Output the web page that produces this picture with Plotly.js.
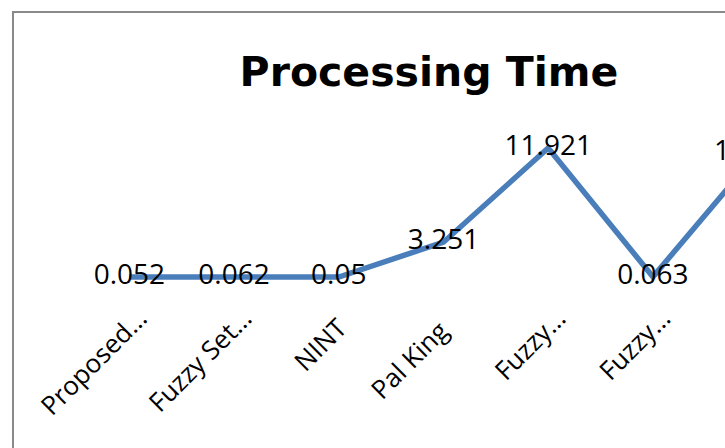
<!DOCTYPE html>
<html>
<head>
<meta charset="utf-8">
<script src="https://cdn.plot.ly/plotly-3.0.1.min.js"></script>
<style>
  html, body { margin: 0; padding: 0; width: 725px; height: 448px; overflow: hidden; background: #fff; }
  #chart { position: absolute; left: 0; top: 0; width: 860px; height: 448px; }
  #frame { position: absolute; left: 12px; top: 11px; width: 900px; height: 500px;
           border: 2px solid #8a8a8a; pointer-events: none; z-index: 10; }
</style>
</head>
<body>
<div id="chart"></div>
<div id="frame"></div>
<script>
// Data
const categories = ["Proposed\u2026", "Fuzzy Set\u2026", "NINT", "Pal King", "Fuzzy\u2026", "Fuzzy\u2026", "Fi\u2026"];
const processingTime = [0.052, 0.062, 0.05, 3.251, 11.921, 0.063, 11.452];

const xIdx = categories.map((_, i) => i);

// Excel keeps un-truncated rotated labels a little lower-left than truncated ones;
// emulate with trailing non-breaking spaces.
const labelPad = ["", "", "\u00a0\u00a0", "\u00a0\u00a0\u2009", "", "", ""];
const tickText = categories.map((c, i) => c + labelPad[i]);

const trace = {
  x: xIdx,
  y: processingTime,
  type: 'scatter',
  mode: 'lines+text',
  text: processingTime.map(v => String(v)),
  textposition: 'middle center',
  textfont: { family: 'Open Sans, sans-serif', size: 28, color: '#000' },
  line: { color: '#4a7ebb', width: 5.5 },
  cliponaxis: false,
  hoverinfo: 'skip'
};

const layout = {
  width: 860,
  height: 448,
  margin: { l: 77, r: 50, t: 130, b: 151 },
  paper_bgcolor: '#fff',
  plot_bgcolor: '#fff',
  showlegend: false,
  title: {
    text: '<b>Processing Time</b>',
    font: { family: 'DejaVu Sans, sans-serif', size: 41, color: '#000' },
    xref: 'container', x: 429 / 860, xanchor: 'center',
    yref: 'container', y: 1 - 72 / 448, yanchor: 'middle'
  },
  xaxis: {
    range: [-0.5, 6.5],
    tickmode: 'array',
    tickvals: xIdx,
    ticktext: tickText,
    tickangle: -45,
    ticklabelshift: 10,
    tickfont: { family: 'Open Sans, sans-serif', size: 26, color: '#000' },
    showgrid: false, zeroline: false, showline: false, ticks: ''
  },
  yaxis: {
    range: [-1.79, 13.57],
    showgrid: false, zeroline: false, showline: false, showticklabels: false, ticks: ''
  }
};

Plotly.newPlot('chart', [trace], layout, { displayModeBar: false, staticPlot: true });
</script>
</body>
</html>
